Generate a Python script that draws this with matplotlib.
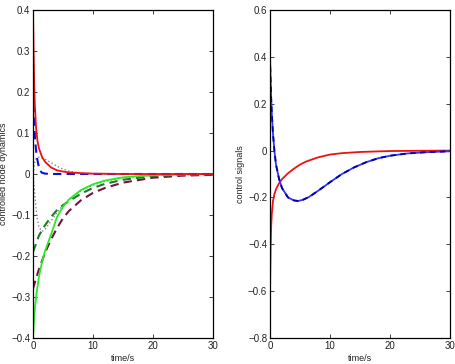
import matplotlib
matplotlib.use("Agg")
import matplotlib.pyplot as plt

# ---------------- data ----------------
# Left panel: controlled node dynamics
t_red_l = [0, 0.1, 0.2, 0.3, 0.5, 0.75, 1, 1.5, 2, 3, 4, 5, 6, 8, 10, 15, 20, 30]
y_red_l = [0.4, 0.3, 0.22, 0.17, 0.115, 0.08, 0.062, 0.042, 0.03, 0.016, 0.009, 0.006, 0.004, 0.002, 0.001, 0.0, 0.0, 0.0]

t_blue_l = [0, 0.05, 0.15, 0.33, 0.6, 0.9, 1.2, 1.5, 2, 3, 5, 10, 20, 30]
y_blue_l = [0.27, 0.21, 0.15, 0.085, 0.045, 0.022, 0.008, 0.003, 0.001, 0.0, 0.0, 0.0, 0.0, 0.0]

t_gray_a = [0, 0.3, 0.6, 1, 2, 3, 4, 5, 6, 8, 10, 15, 30]
y_gray_a = [0.0, 0.03, 0.04, 0.041, 0.036, 0.028, 0.019, 0.012, 0.007, 0.002, 0.0, 0.0, 0.0]

t_gray_b = [0, 0.3, 0.6, 1, 1.5, 2, 3, 4, 5, 6, 8, 10, 12, 15, 20, 30]
y_gray_b = [0.0, -0.05, -0.1, -0.13, -0.14, -0.135, -0.115, -0.094, -0.077, -0.062, -0.041, -0.027, -0.018, -0.009, -0.003, 0.0]

t_green_s = [0, 0.15, 0.3, 0.6, 1, 1.5, 2, 3, 4, 5, 6, 8, 10, 12, 15, 20, 25, 30]
y_green_s = [-0.4, -0.36, -0.33, -0.29, -0.25, -0.215, -0.188, -0.148, -0.105, -0.08, -0.062, -0.039, -0.025, -0.016, -0.008, -0.003, -0.001, 0.0]

t_green_d = [0, 1, 2, 3, 4, 5, 6, 8, 10, 12, 15, 20, 25, 30]
y_green_d = [-0.19, -0.15, -0.125, -0.105, -0.088, -0.076, -0.066, -0.048, -0.034, -0.024, -0.014, -0.005, -0.002, -0.001]

t_purple = [0, 0.5, 1, 2, 3, 4, 5, 6, 8, 10, 12, 15, 20, 25, 30]
y_purple = [-0.28, -0.255, -0.232, -0.192, -0.16, -0.132, -0.108, -0.09, -0.064, -0.046, -0.034, -0.021, -0.009, -0.004, -0.002]

# Right panel: control signals
t_red_r = [0, 0.1, 0.2, 0.3, 0.5, 0.75, 1, 1.5, 2, 3, 4, 5, 6, 8, 10, 12, 15, 20, 25, 30]
y_red_r = [-0.6, -0.42, -0.32, -0.27, -0.215, -0.185, -0.165, -0.14, -0.122, -0.097, -0.077, -0.06, -0.047, -0.029, -0.017, -0.011, -0.006, -0.002, -0.001, 0.0]

t_blue_r = [0, 0.1, 0.2, 0.3, 0.5, 0.75, 1, 1.5, 2, 3, 4, 4.7, 5.5, 6.5, 8, 10, 12, 14, 16, 18, 20, 23, 26, 30]
y_blue_r = [0.4, 0.3, 0.22, 0.16, 0.07, -0.005, -0.06, -0.12, -0.16, -0.2, -0.213, -0.215, -0.21, -0.198, -0.172, -0.135, -0.1, -0.072, -0.05, -0.033, -0.022, -0.012, -0.007, -0.003]

xticks = [0, 10, 20, 30]
xlabels = ["0", "10", "20", "30"]
yticks_l = [-0.4, -0.3, -0.2, -0.1, 0, 0.1, 0.2, 0.3, 0.4]
ylabels_l = ["\u22120.4", "\u22120.3", "\u22120.2", "\u22120.1", "0", "0.1", "0.2", "0.3", "0.4"]
yticks_r = [-0.8, -0.6, -0.4, -0.2, 0, 0.2, 0.4, 0.6]
ylabels_r = ["\u22120.8", "\u22120.6", "\u22120.4", "\u22120.2", "0", "0.2", "0.4", "0.6"]

# ---------------- figure ----------------
plt.rcParams['font.family'] = ['Liberation Sans', 'DejaVu Sans']
fig = plt.figure(figsize=(4.55, 3.64), dpi=100)
W, H = 455, 364
axL = fig.add_axes([33 / W, (H - 338) / H, 180 / W, 328 / H])
axR = fig.add_axes([270 / W, (H - 338) / H, 180 / W, 328 / H])

lw = 1.3
dash = (0, (4, 2.5))
axL.plot(t_gray_a, y_gray_a, color='#888888', ls=':', lw=1.0)
axL.plot(t_gray_b, y_gray_b, color='#888888', ls=':', lw=1.0)
axL.plot(t_purple, y_purple, color='#7a1040', ls=dash, lw=lw + 0.2)
axL.plot(t_green_d, y_green_d, color='#1e7a1e', ls=dash, lw=lw + 0.2)
axL.plot(t_green_s, y_green_s, color='#22ee22', ls='-', lw=lw)
axL.plot(t_blue_l, y_blue_l, color='#1010cc', ls=dash, lw=lw + 0.2)
axL.plot(t_red_l, y_red_l, color='#ee1111', ls='-', lw=lw)

axR.plot(t_red_r, y_red_r, color='#ee1111', ls='-', lw=lw)
axR.plot(t_blue_r, y_blue_r, color='#3333ff', ls='-', lw=lw)
axR.plot(t_blue_r, y_blue_r, color='#0000a0', ls=(0, (3, 2.5)), lw=lw)

for ax, yt, yl, lim, lab in [(axL, yticks_l, ylabels_l, (-0.4, 0.4), 'controlled node dynamics'),
                             (axR, yticks_r, ylabels_r, (-0.8, 0.6), 'control signals')]:
    ax.set_xlim(0, 30)
    ax.set_ylim(*lim)
    ax.set_xticks(xticks)
    ax.set_xticklabels(xlabels)
    ax.set_yticks(yt)
    ax.set_yticklabels(yl)
    ax.tick_params(direction='in', top=True, right=True, length=3, width=0.6,
                   labelsize=7, colors='#222222', pad=2)
    for s in ax.spines.values():
        s.set_linewidth(0.9)
    ax.set_xlabel('time/s', fontsize=6.5, labelpad=2, color='#222222')
    ax.set_ylabel(lab, fontsize=6.5, labelpad=2, color='#222222')

fig.savefig('out.png', dpi=100)
